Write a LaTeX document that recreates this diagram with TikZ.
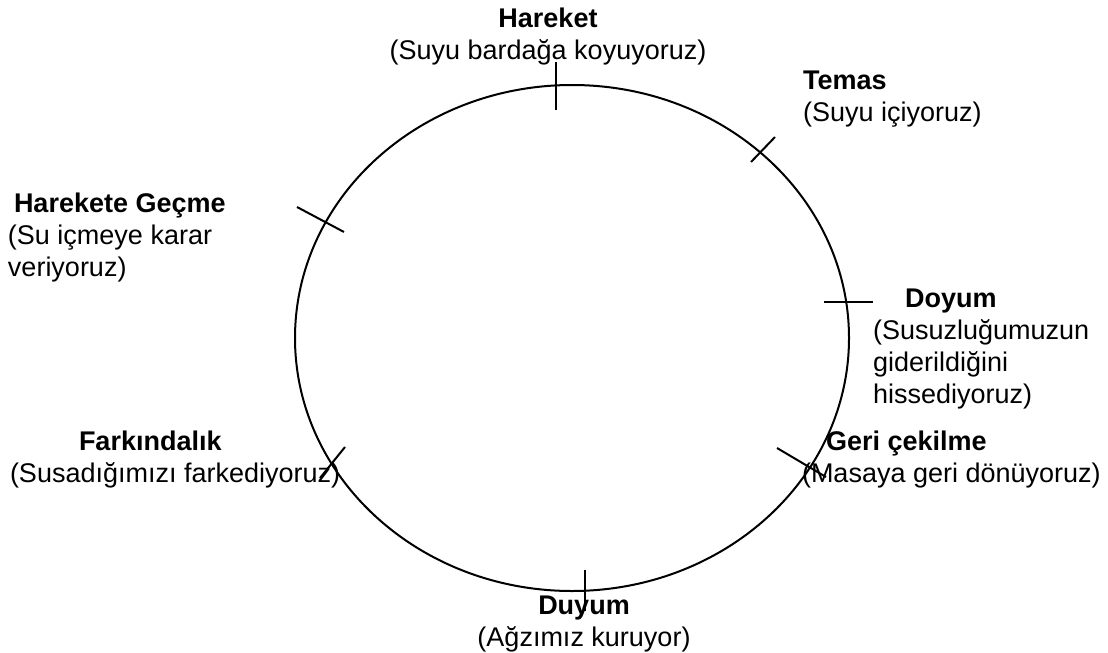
\documentclass[tikz,border=0pt]{standalone}
\usepackage{fontspec}
\setmainfont{Liberation Sans}
\usetikzlibrary{shapes.geometric}
\begin{document}
\begin{tikzpicture}[x=1pt,y=-1pt,
  lbl/.style={inner sep=0pt, outer sep=0pt, font=\fontsize{27}{32}\selectfont},
  tick/.style={line width=2pt},
  ring/.style={line width=2pt}]
\useasboundingbox (0,0) rectangle (1108,653);
\fill[white] (0,0) rectangle (1108,653);
% the cycle
\node[ring, draw, ellipse, minimum width=554pt, minimum height=506pt, inner sep=0pt] (cyc) at (572,338) {};
% ticks
\coordinate (t1a) at (556,62);  \coordinate (t1b) at (556,110);
\coordinate (t2a) at (751,162); \coordinate (t2b) at (775,137);
\coordinate (t3a) at (297,207); \coordinate (t3b) at (344,232);
\coordinate (t4a) at (824,302); \coordinate (t4b) at (873,302);
\coordinate (t5a) at (777,448); \coordinate (t5b) at (826,477);
\coordinate (t6a) at (585,570); \coordinate (t6b) at (585,611);
\coordinate (t7a) at (320,478); \coordinate (t7b) at (345,447);
\foreach \i in {1,...,7} \draw[tick] (t\i a) -- (t\i b);
% labels (anchored at the baseline of the last line)
\node[lbl, anchor=base, align=center] (hareket) at (548,59)
  {\textbf{Hareket}\\(Suyu bardağa koyuyoruz)};
\node[lbl, anchor=base west, align=left] (temas) at (803,121)
  {\textbf{Temas}\\(Suyu içiyoruz)};
\node[lbl, anchor=base west, align=left] (gecme) at (8,276)
  {\hspace*{6pt}\textbf{Harekete Geçme}\\(Su içmeye karar\\veriyoruz)};
\node[lbl, anchor=base west, align=left] (doyum) at (873,403)
  {\hspace*{32pt}\textbf{Doyum}\\(Susuzluğumuzun\\giderildiğini\\hissediyoruz)};
\node[lbl, anchor=base west, align=left] (fark) at (10,482)
  {\hspace*{69pt}\textbf{Farkındalık}\\(Susadığımızı farkediyoruz)};
\node[lbl, anchor=base west, align=left] (geri) at (802,482)
  {\hspace*{24pt}\textbf{Geri çekilme}\\(Masaya geri dönüyoruz)};
\node[lbl, anchor=base, align=center] (duyum) at (584,646)
  {\textbf{Duyum}\\(Ağzımız kuruyor)};
\end{tikzpicture}
\end{document}
